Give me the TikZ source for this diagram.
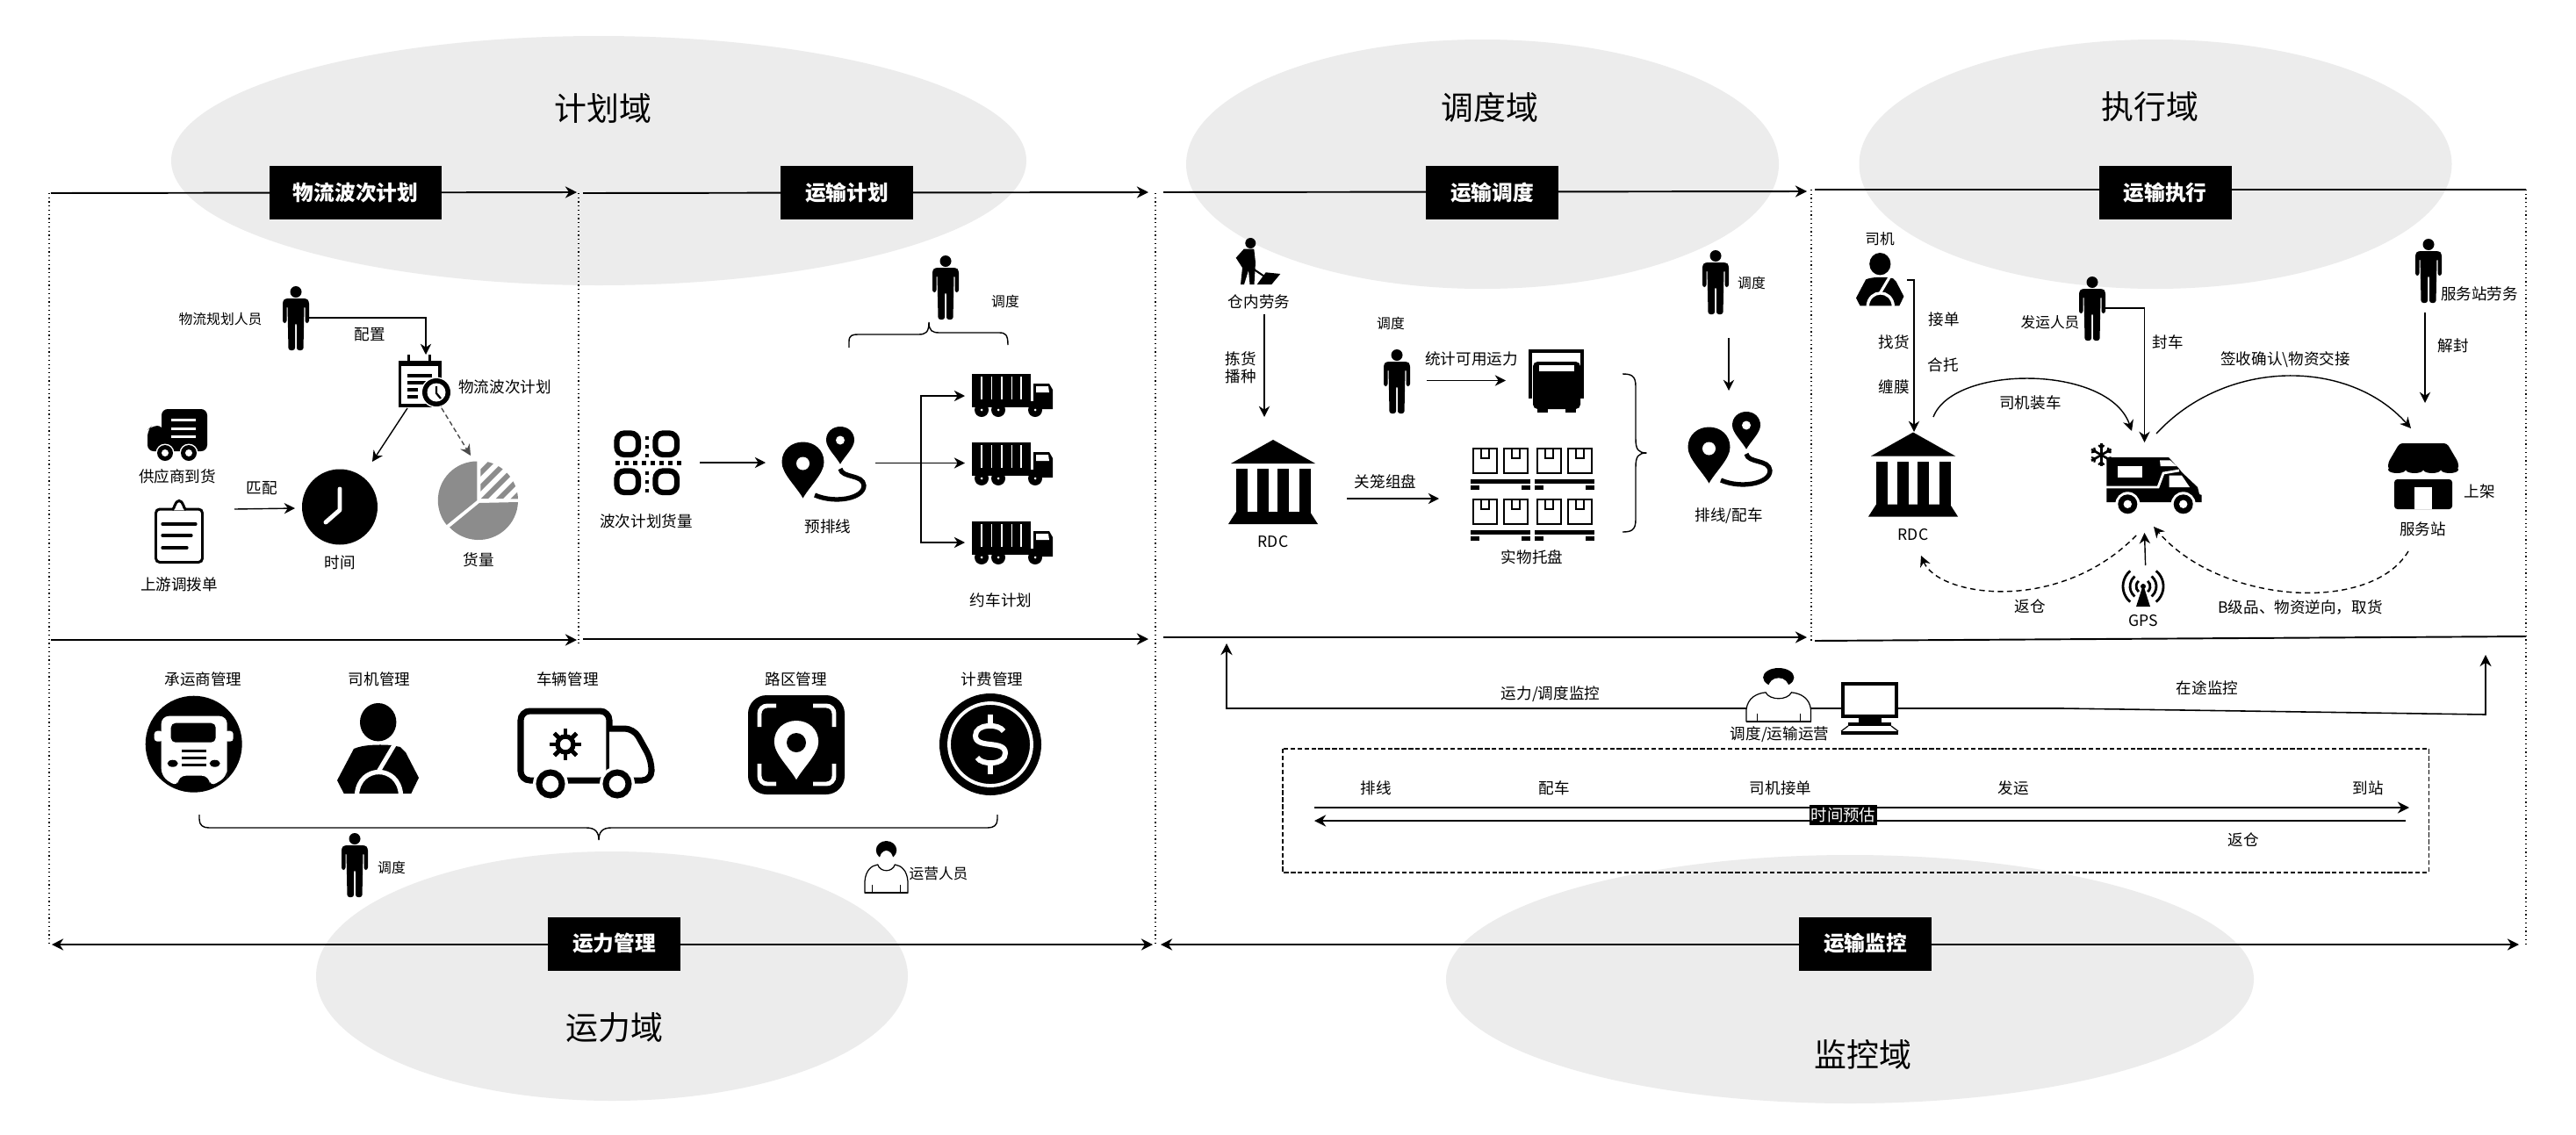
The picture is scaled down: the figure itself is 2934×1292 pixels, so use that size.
\documentclass[tikz,border=0pt]{standalone}
\usepackage{fontspec}
\setmainfont{Noto Sans CJK SC}
\usetikzlibrary{arrows.meta,positioning}

\begin{document}
\begin{tikzpicture}[y=-0.02cm,x=0.02cm,
	zonefill/.style={fill=black!7.5},
	hdr/.style={fill=black,text=white,font=\fontsize{13.5}{15}\selectfont\bfseries,minimum height=1.22cm,minimum width=3.02cm,inner sep=0pt},
	dom/.style={font=\fontsize{21}{24}\selectfont,inner sep=0pt},
	lab/.style={font=\fontsize{10}{11.3}\selectfont,inner sep=0pt,align=center},
	smalllab/.style={font=\fontsize{9}{11}\selectfont,inner sep=0pt},
	flow/.style={line width=1.1pt,-{Stealth[length=7.5pt,width=7.5pt]}},
	bothflow/.style={line width=1.1pt,{Stealth[length=7.5pt,width=7.5pt]}-{Stealth[length=7.5pt,width=7.5pt]}},
	thin flow/.style={line width=0.8pt,-{Stealth[length=7pt,width=7pt]}},
	dashflow/.style={line width=0.8pt,dash pattern=on 3.5pt off 2.5pt,-{Stealth[length=7pt,width=7pt]}},
	bound/.style={line width=0.7pt,dotted},
	curly/.style={line width=0.8pt}]
	\newcommand\PersonIcon[2]{\begin{scope}[shift={(#1,#2)}]
		\fill (15,6.5) circle [radius=6.5];
		\fill[rounded corners=1.5] (0,17) -- (3,14) -- (27,14) -- (30,17) -- (30,42) -- (25.5,42) -- (25.5,22) -- (24.5,22) -- (23.5,73) -- (16,73) -- (16,42) -- (14,42) -- (14,73) -- (6.5,73) -- (5.5,22) -- (4.5,22) -- (4.5,42) -- (0,42) -- cycle;
	\end{scope}}
	\newcommand\PinIcon[4][black]{\begin{scope}[shift={(#2,#3)},scale=#4]
		\fill[#1] (0,64) .. controls (-8,50) and (-24,36) .. (-24,23) .. controls (-24,9) and (-13,0) .. (0,0) .. controls (13,0) and (24,9) .. (24,23) .. controls (24,36) and (8,50) .. (0,64) -- cycle;
	\end{scope}}
	\newcommand\RouteIcon[2]{\begin{scope}[shift={(#1,#2)}]
		\PinIcon{23.5}{17.5}{1}
		\fill[white] (23.5,42) circle [radius=7.5];
		\PinIcon{66}{0}{0.667}
		\fill[white] (66,15.5) circle [radius=5];
		\draw[line width=3pt] (66,48) .. controls (68,59) and (92,54) .. (93,67) .. controls (93,82) and (60,88) .. (37,78);
	\end{scope}}
	\newcommand\BankIcon[2]{\begin{scope}[shift={(#1,#2)}]
		\fill (51,0) -- (99,27) -- (3,27) -- cycle;
		\foreach \c in {9,33,56,81} \fill (\c,33) rectangle (\c+13,84);
		\fill (9,82) -- (93,82) -- (102,96) -- (0,96) -- cycle;
	\end{scope}}
	\newcommand\LorryIcon[2]{\begin{scope}[shift={(#1,#2)}]
		\fill (0,0) rectangle (67,31);
		\foreach \s in {11,22.5,34,45.5,56} \draw[white,line width=0.7pt] (\s,3) -- (\s,29);
		\fill (0,31) rectangle (72,38);
		\fill (70,11) -- (88,11) -- (92,18) -- (92,40) -- (70,40) -- cycle;
		\fill[white] (73,14) -- (87,14) -- (88,21) -- (73,21) -- cycle;
		\foreach \w in {11,30,72} {\fill (\w,41) circle [radius=8]; \fill[white] (\w,41) circle [radius=1.5];}
	\end{scope}}
	\newcommand\DriverIcon[3]{\begin{scope}[shift={(#1,#2)},scale=#3]
		\fill (46.7,21.7) ellipse [x radius=20.7,y radius=21.7];
		\fill (19,52) .. controls (30,47) and (50,47) .. (62,48) -- (72,50) -- (78,56) -- (93,85) -- (84.3,103) -- (7.7,103) -- (0,88) -- cycle;
		\draw[white,line width=2.4pt*#3+0.4pt] (66,46) -- (47,78);
		\draw[white,line width=2.6pt*#3+0.4pt] (22.5,104) .. controls (25,70) and (70,70) .. (72.5,104);
	\end{scope}}
	\newcommand\OperatorIcon[4]{\begin{scope}[shift={(#1,#2)},xscale=#3,yscale=#4]
		\fill[white,draw=black,line width=0.7pt] (0,59) -- (0,46) .. controls (1,33) and (8,28) .. (15,27) .. controls (18,36) and (32,36) .. (35,27) .. controls (42,28) and (49,33) .. (50,46) -- (50,59) -- cycle;
		\fill (25,10.5) ellipse [x radius=12,y radius=10.5];
		\fill[white] (25,22) ellipse [x radius=8,y radius=11];
		\draw[line width=0.6pt] (8.4,50) -- (8.4,59) (41.6,50) -- (41.6,59);
		\draw[line width=1pt] (0,59) -- (50,59);
	\end{scope}}

	\useasboundingbox (0,0) rectangle (2934,1292);
	\fill[white] (0,0) rectangle (2934,1292);

	\fill[zonefill] (682,183) ellipse [x radius=487,y radius=142];
	\fill[zonefill] (1688.5,187) ellipse [x radius=337.5,y radius=142];
	\fill[zonefill] (2455,187) ellipse [x radius=337.5,y radius=142];
	\fill[zonefill] (697,1112) ellipse [x radius=337,y radius=142];
	\fill[zonefill] (2107,1115.5) ellipse [x radius=460,y radius=141.5];

	\node[dom] (planDom) at (687,123) {计划域};
	\node[dom] (dispatchDom) at (1697,122) {调度域};
	\node[dom] (execDom) at (2449,122) {执行域};
	\node[dom] (capacityDom) at (700,1171) {运力域};
	\node[dom] (monitorDom) at (2122,1201) {监控域};

	\draw[bound] (56,220) -- (56,1076);
	\draw[bound] (659,220) -- (659,733);
	\draw[bound] (1316,220) -- (1316,1076);
	\draw[bound] (2063,216) -- (2063,733);
	\draw[bound] (2877,216) -- (2877,1076);

	\coordinate (waveTopL) at (58,220);
	\coordinate (waveTopR) at (657,219);
	\coordinate (tranTopL) at (664,220);
	\coordinate (tranTopR) at (1308,219);
	\coordinate (dispTopL) at (1325,219);
	\coordinate (dispTopR) at (2058,218);
	\coordinate (execTopL) at (2067,216);
	\coordinate (execTopR) at (2877,216);
	\coordinate (waveMidL) at (58,729);
	\coordinate (waveMidR) at (657,729);
	\coordinate (tranMidL) at (664,728);
	\coordinate (tranMidR) at (1308,728);
	\coordinate (dispMidL) at (1325,726);
	\coordinate (dispMidR) at (2058,726);
	\coordinate (execMidL) at (2067,730);
	\coordinate (execMidR) at (2877,725);
	\coordinate (capL) at (59,1076);
	\coordinate (capR) at (1313,1076);
	\coordinate (monL) at (1322,1076);
	\coordinate (monR) at (2869,1076);

	\draw[flow] (waveTopL) -- (waveTopR);
	\draw[flow] (tranTopL) -- (tranTopR);
	\draw[flow] (dispTopL) -- (dispTopR);
	\draw[line width=1.1pt] (execTopL) -- (execTopR);
	\draw[flow] (waveMidL) -- (waveMidR);
	\draw[flow] (tranMidL) -- (tranMidR);
	\draw[flow] (dispMidL) -- (dispMidR);
	\draw[line width=1.1pt] (execMidL) -- (execMidR);
	\draw[bothflow] (capL) -- (capR);
	\draw[bothflow] (monL) -- (monR);

	\node[hdr,minimum width=3.92cm] (waveHdr) at (405,219.5) {物流波次计划};
	\node[hdr] (tranHdr) at (964.5,219.5) {运输计划};
	\node[hdr] (dispHdr) at (1699.5,219.5) {运输调度};
	\node[hdr] (execHdr) at (2466,219.5) {运输执行};
	\node[hdr] (capHdr) at (699.5,1075) {运力管理};
	\node[hdr] (monHdr) at (2124.5,1075) {运输监控};

	\PersonIcon{322}{326}
	\node[smalllab] (plannerLab) at (251,364) {物流规划人员};
	\coordinate (plannerOut) at (352,362);
	\coordinate (calIn) at (485,404);
	\draw[thin flow] (plannerOut) -| (calIn);
	\node[lab] (configLab) at (421,381) {配置};

	\begin{scope}[shift={(454,404)}]
		\draw[line width=1.9pt] (1.5,9) rectangle (47,58);
		\fill (0,7) rectangle (48,13);
		\fill (10,0) rectangle (13,12);
		\fill (34,0) rectangle (37,12);
		\foreach \l/\e in {22/38,30/32,38/22,46/22} \fill (10,\l) rectangle (\e,\l+3.5);
		\fill[white] (43,43) circle [radius=17.5];
		\fill (43,43) circle [radius=16];
		\fill[white] (43,43) circle [radius=10.5];
		\draw[line width=1.3pt] (43,36) -- (43,44) -- (48,50);
	\end{scope}
	\node[lab] (waveLab) at (575,441) {物流波次计划};
	\coordinate (calTime) at (464,465);
	\coordinate (timeIn) at (424,526);
	\coordinate (calQty) at (503,465);
	\coordinate (qtyIn) at (536,519);
	\draw[thin flow] (calTime) -- (timeIn);
	\draw[dashflow,black!70,dash pattern=on 3pt off 2pt] (calQty) -- (qtyIn);

	\fill (387,577.5) circle [radius=43];
	\draw[white,line width=2.8pt,line cap=round,line join=round] (387,557) -- (387,581) -- (371,595);
	\node[lab] (timeLab) at (387,641) {时间};

	\fill[black!45] (543.3,570) -- (543.3,525.5) arc [start angle=270,end angle=141,radius=44.5] -- cycle;
	\fill[black!45] (546,573) -- (590,572) arc [start angle=2.5,end angle=137,radius=45] -- cycle;
	\begin{scope}
		\clip (547.3,568) -- (547.4,525) arc [start angle=273,end angle=358,radius=45] -- cycle;
		\foreach \s in {-34,-17,...,68} \draw[black!45,line width=3.4pt] (530+\s,590) -- (600+\s,520);
	\end{scope}
	\node[lab] (qtyLab) at (545,638) {货量};

	\begin{scope}[shift={(168,466)}]
		\fill[rounded corners=4] (16,0) rectangle (68,48);
		\fill[rounded corners=4] (0,24) -- (5,19) -- (18,19) -- (18,48) -- (0,48) -- cycle;
		\foreach \l in {12.5,22,31.5} \draw[white,line width=1.7pt] (27,\l) -- (55,\l);
		\foreach \w in {20,47} {\fill[white] (\w,50) circle [radius=10.5]; \fill (\w,50) circle [radius=9]; \fill[white] (\w,50) circle [radius=4];}
	\end{scope}
	\node[lab] (supplierLab) at (202,543) {供应商到货};

	\begin{scope}[shift={(176,569)}]
		\draw[line width=1.7pt,rounded corners=2.5] (1.5,11) rectangle (54.5,71.5);
		\draw[line width=1.7pt,fill=white] (20,12) .. controls (23,11) and (23,1.5) .. (28,1.5) .. controls (33,1.5) and (33,11) .. (36,12);
		\foreach \l/\e in {28/47,41/42,55/37} \draw[line width=1.9pt,line cap=round] (9,\l) -- (\e,\l);
	\end{scope}
	\node[lab] (transferLab) at (204,666) {上游调拨单};
	\node[lab] (matchLab) at (298,556) {匹配};
	\coordinate (matchOut) at (267,580);
	\coordinate (matchIn) at (336,579);
	\draw[thin flow] (matchOut) -- (matchIn);

	\PersonIcon{1062}{291}
	\node[smalllab] (tranSchedLab) at (1145,343) {调度};
	\draw[curly] (967,396) -- (967,389) .. controls (967,382) and (971,381) .. (977,381) -- (1046,381) .. controls (1054,381) and (1058,379) .. (1058,367) .. controls (1058,377) and (1062,379) .. (1070,379) -- (1138,379) .. controls (1145,379) and (1148,381) .. (1148,393);

	\begin{scope}[shift={(699,490)}]
		\foreach \a/\b in {0/0,44/0,0/43,44/43} \draw[line width=3.6pt,rounded corners=5] (\a+3.5,\b+3.5) rectangle (\a+28,\b+28);
		\foreach \d in {2,12,22,32,42,52,62,72} \fill (\d,35) rectangle (\d+4.5,39.5);
		\foreach \d in {7,17,27,47,57,67} \fill (35.5,\d) rectangle (39.5,\d+4);
	\end{scope}
	\node[lab] (qtyPlanLab) at (736,594) {波次计划货量};
	\coordinate (qrOut) at (797,527);
	\coordinate (routeIn) at (872,527);
	\draw[thin flow] (qrOut) -- (routeIn);

	\RouteIcon{891}{486}
	\node[lab] (preRouteLab) at (943,600) {预排线};
	\coordinate (routeOut) at (997,527.5);
	\coordinate (split) at (1049,527.5);
	\coordinate (lorryA) at (1099,451);
	\coordinate (lorryB) at (1099,527.5);
	\coordinate (lorryC) at (1099,618);
	\draw[thin flow] (routeOut) -- (lorryB);
	\draw[thin flow] (split) |- (lorryA);
	\draw[thin flow] (split) |- (lorryC);
	\LorryIcon{1107}{426}
	\LorryIcon{1107}{504}
	\LorryIcon{1107}{594}
	\node[lab] (bookLab) at (1140,684) {约车计划};

	\begin{scope}[shift={(1407,272)}]
		\fill (17.3,5) circle [radius=6];
		\fill (9.7,11.7) -- (21.3,11.7) -- (23,27) -- (21.5,52) -- (16.5,52) -- (15,36) -- (10,52) -- (6,52) -- (8,33) -- (0.7,21.7) -- cycle;
		\draw[line width=1.2pt] (16.3,31.7) -- (36.3,45);
		\fill (34.7,38.3) -- (51.3,40) -- (41.3,52) -- (24.7,52) -- cycle;
	\end{scope}
	\node[lab] (whLabor) at (1434,344) {仓内劳务};
	\coordinate (whOut) at (1440,357.5);
	\coordinate (bankIn) at (1440,475);
	\draw[thin flow] (whOut) -- (bankIn);
	\node[lab] (pickLab) at (1413,419) {拣货\\播种};
	\BankIcon{1399}{501}
	\node[lab] (rdcLab) at (1450,617.5) {RDC};

	\node[smalllab] (capSchedLab) at (1584,368) {调度};
	\PersonIcon{1576}{398}
	\node[lab] (countLab) at (1676,409) {统计可用运力};
	\coordinate (countOut) at (1625,433.5);
	\coordinate (dockIn) at (1715,433.5);
	\draw[thin flow] (countOut) -- (dockIn);

	\begin{scope}[shift={(1741,398)}]
		\draw[line width=2.2pt] (2,56) -- (2,2) -- (61,2) -- (61,56);
		\fill[rounded corners=3] (5,14) rectangle (59,68);
		\fill (10,66) rectangle (22,72);
		\fill (42,66) rectangle (54,72);
		\fill[white] (12,18) rectangle (52,25);
	\end{scope}

	\node[lab] (palletGroup) at (1578,548.6) {关笼组盘};
	\coordinate (groupOut) at (1534,568);
	\coordinate (palletIn) at (1639,568);
	\draw[thin flow] (groupOut) -- (palletIn);
	\begin{scope}[shift={(1675,510)}]
		\foreach \gx in {0,73} \foreach \gy in {0,58} {
			\begin{scope}[shift={(\gx,\gy)}]
				\foreach \bx in {3,38} {
					\draw[line width=1.1pt] (\bx,1) rectangle (\bx+27,29);
					\draw[line width=1.1pt] (\bx+9,1) rectangle (\bx+18,12);
				}
				\fill (0,36) rectangle (68,41);
				\fill (0,43) rectangle (10,48);
				\fill (58,43) rectangle (68,48);
			\end{scope}
		}
	\end{scope}
	\node[lab] (palletLab) at (1745,635) {实物托盘};
	\draw[curly] (1848,426) .. controls (1858,426) and (1863,428) .. (1863,440) -- (1863,500) .. controls (1863,512) and (1866,516) .. (1875.5,516) .. controls (1866,516) and (1863,520) .. (1863,532) -- (1863,592) .. controls (1863,604) and (1858,606) .. (1848,606);

	\PersonIcon{1939}{285}
	\node[smalllab] (routeSchedLab) at (1995,322) {调度};
	\coordinate (routeSchedOut) at (1969,385);
	\coordinate (routeSchedIn) at (1969,445);
	\draw[thin flow] (routeSchedOut) -- (routeSchedIn);
	\RouteIcon{1923}{469}
	\node[lab] (lineCarLab) at (1969,588) {排线/配车};

	\node[smalllab,font=\fontsize{9.5}{11}\selectfont] (driverTitle) at (2141,272) {司机};
	\DriverIcon{2114}{288}{0.585}
	\coordinate (driverOut) at (2172,319);
	\coordinate (rdcIn) at (2180,492);
	\draw[thin flow] (driverOut) -| (rdcIn);
	\node[lab] (takeLab) at (2214,364) {接单};
	\node[lab] (findLab) at (2157,390) {找货};
	\node[lab] (mergeLab) at (2213,416) {合托};
	\node[lab] (wrapLab) at (2157,441) {缠膜};
	\BankIcon{2128}{492.5}
	\node[lab] (rdcExecLab) at (2179,609) {RDC};

	\PersonIcon{2368}{315}
	\node[smalllab,font=\fontsize{9.5}{11}\selectfont] (senderLab) at (2335,367.5) {发运人员};
	\coordinate (senderOut) at (2398,351);
	\coordinate (vanTop) at (2442.5,504);
	\draw[thin flow] (senderOut) -| (vanTop);
	\node[lab] (sealLab) at (2469,390) {封车};

	\coordinate (loadOut) at (2202,475);
	\coordinate (loadIn) at (2428,491);
	\draw[thin flow] (loadOut) .. controls (2225,415) and (2402,415) .. (loadIn);
	\node[lab] (loadLab) at (2312.5,459) {司机装车};
	\coordinate (signOut) at (2456,494);
	\coordinate (signIn) at (2746,488);
	\draw[thin flow] (signOut) .. controls (2535,408) and (2675,408) .. (signIn);
	\node[lab] (signLab) at (2603,410) {签收确认\textbackslash 物资交接};

	\PersonIcon{2751}{272}
	\node[lab] (stationLabor) at (2824,335) {服务站劳务};
	\coordinate (laborOut) at (2762,356);
	\coordinate (storeIn) at (2762,459);
	\draw[thin flow] (laborOut) -- (storeIn);
	\node[lab] (unsealLab) at (2794,393.6) {解封};

	\begin{scope}[shift={(2720,505)}]
		\fill[rounded corners=2] (13,0) -- (67,0) -- (80,22) -- (80,30) -- (0,30) -- (0,22) -- cycle;
		\foreach \c in {10,30,50,70} \fill (\c,30) ellipse [x radius=10,y radius=4];
		\fill[rounded corners=2] (7,41) rectangle (73,75);
		\fill[white] (30,50) rectangle (50,75);
	\end{scope}
	\node[lab] (shelfLab) at (2824,560) {上架};
	\node[lab] (stationLab) at (2759.5,602.5) {服务站};

	\begin{scope}[shift={(2380,505)}]
		\fill (19.3,16) -- (90,16) -- (102,29) -- (105,33) -- (123,50) -- (125,58) -- (127.7,59) -- (127.7,67) -- (19.3,67) -- cycle;
		\fill[white] (31.7,25.7) rectangle (60,39.3);
		\fill[white] (80,19.3) -- (91.7,19.3) -- (99.3,26) -- (80.7,26) -- cycle;
		\fill[white] (90.7,36.7) -- (105,36.7) -- (114,50) -- (90.7,50) -- cycle;
		\draw[white,line width=1.6pt] (19,50) -- (78,50) -- (84,34) -- (102,31);
		\foreach \w in {43.3,106.7} {\fill[white] (\w,69.3) circle [radius=14]; \fill (\w,69.3) circle [radius=11]; \fill[white] (\w,69.3) circle [radius=4.7];}
		\begin{scope}[shift={(13.3,13.3)}]
			\foreach \a in {30,90,...,330} {
				\draw[line width=1.5pt] (0,0) -- (\a:13);
				\draw[line width=1.2pt] (\a:8) -- +(\a+45:4.5) (\a:8) -- +(\a-45:4.5);
			}
		\end{scope}
	\end{scope}

	\coordinate (vanBack) at (2433,610);
	\coordinate (rdcBack) at (2188,633);
	\draw[dashflow] (vanBack) .. controls (2345,700) and (2208,680) .. (rdcBack);
	\node[lab] (backLab) at (2312.5,690.7) {返仓};
	\coordinate (stationBack) at (2743,628);
	\coordinate (vanFrom) at (2453,600);
	\draw[dashflow] (stationBack) .. controls (2700,700) and (2528,688) .. (vanFrom);
	\node[lab] (reverseLab) at (2620,692) {B级品、物资逆向，取货};

	\begin{scope}[shift={(2417,648)}]
		\fill (24,18) -- (32,43) -- (16,43) -- cycle;
		\fill (24,20) circle [radius=3];
		\foreach \r in {8,15,23} {
			\draw[line width=1.6pt] (24,20) ++(-50:\r) arc [start angle=-50,end angle=50,radius=\r];
			\draw[line width=1.6pt] (24,20) ++(130:\r) arc [start angle=130,end angle=230,radius=\r];
		}
	\end{scope}
	\coordinate (gpsOut) at (2443.6,644);
	\coordinate (gpsIn) at (2442.5,607);
	\draw[thin flow] (gpsOut) -- (gpsIn);
	\node[lab] (gpsLab) at (2441,707.5) {GPS};

	\node[lab] (carrierLab) at (231.5,774) {承运商管理};
	\node[lab] (driverLab) at (432,774) {司机管理};
	\node[lab] (vehicleLab) at (646.5,774) {车辆管理};
	\node[lab] (zoneLab) at (906.6,774) {路区管理};
	\node[lab] (feeLab) at (1130,774) {计费管理};

	\begin{scope}[shift={(220.7,847.7)}]
		\fill (0,0) circle [radius=55];
		\fill[white,rounded corners=5] (-37,-32) -- (38,-32) -- (38,32) -- (38,37) -- (18,49) -- (18,36) -- (-18,36) -- (-18,49) -- (-37,37) -- cycle;
		\fill[white,rounded corners=2] (-45,-15) rectangle (-35,-3);
		\fill[white,rounded corners=2] (35,-15) rectangle (45,-3);
		\fill[rounded corners=3] (-26,-24) rectangle (25,-2);
		\foreach \l in {8,16,24} \fill (-14,\l-1.5) rectangle (14,\l+1.5);
		\fill (-24,22) ellipse [x radius=6,y radius=4];
		\fill (24,22) ellipse [x radius=6,y radius=4];
	\end{scope}

	\DriverIcon{384}{801}{1}

	\begin{scope}[shift={(589,806)}]
		\draw[line width=4pt,rounded corners=6] (4,4) rectangle (105,83);
		\draw[line width=4pt,rounded corners=6,fill=white] (105,24) -- (133,24) -- (153,60) -- (153,83) -- (105,83);
		\foreach \w in {38,114} {\fill[white] (\w,87) circle [radius=20]; \draw[line width=4pt] (\w,87) circle [radius=13];}
		\begin{scope}[shift={(55,42)}]
			\foreach \a in {0,45,...,315} \draw[line width=2.8pt] (\a:10) -- (\a:18);
			\draw[line width=3pt] (0,0) circle [radius=9];
		\end{scope}
	\end{scope}

	\begin{scope}[shift={(852,792)}]
		\fill[rounded corners=12] (0,0) rectangle (110,113);
		\draw[white,line width=2.8pt,rounded corners=5] (13,36) -- (13,12) -- (32,12);
		\draw[white,line width=2.8pt,rounded corners=5] (74,12) -- (98,12) -- (98,36);
		\draw[white,line width=2.8pt,rounded corners=5] (13,78) -- (13,101) -- (32,101);
		\draw[white,line width=2.8pt,rounded corners=5] (74,101) -- (98,101) -- (98,78);
		\PinIcon[white]{55}{29}{1.05}
		\fill (55,54) circle [radius=11];
	\end{scope}

	\begin{scope}[shift={(1128,848)}]
		\fill (0,0) circle [radius=58];
		\draw[white,line width=2.2pt] (0,0) circle [radius=47];
		\draw[white,line width=3.4pt] (15,-15) .. controls (10,-24) and (-17,-24) .. (-17,-10) .. controls (-17,6) and (17,-6) .. (17,10) .. controls (17,24) and (-10,24) .. (-15,15);
		\draw[white,line width=3.4pt] (0,-34) -- (0,-22) (0,22) -- (0,34);
	\end{scope}

	\draw[curly] (227,928) -- (227,933) .. controls (227,940) and (231,943) .. (238,943) -- (668,943) .. controls (678,943) and (682,948) .. (682,957) .. controls (682,948) and (686,943) .. (696,943) -- (1125,943) .. controls (1132,943) and (1136,940) .. (1136,933) -- (1136,928);

	\PersonIcon{389}{949}
	\node[smalllab] (capSched) at (446,988) {调度};
	\OperatorIcon{985}{958}{0.98}{1}
	\node[smalllab,font=\fontsize{9.5}{11}\selectfont] (opsLab) at (1069,995) {运营人员};

	\coordinate (ctrlTip) at (1397,733);
	\coordinate (ctrlCorner) at (1397,807);
	\coordinate (ctrlBend) at (2349,807);
	\coordinate (tripCorner) at (2831,814);
	\coordinate (tripTip) at (2831,746);
	\draw[flow,line width=0.9pt] (ctrlBend) -- (ctrlCorner) -- (ctrlTip);
	\draw[flow,line width=0.9pt] (ctrlBend) -- (tripCorner) -- (tripTip);
	\node[lab] (ctrlLab) at (1766,791) {运力/调度监控};
	\node[lab] (tripLab) at (2514,784) {在途监控};

	\OperatorIcon{1989}{761}{1.47}{1.03}
	\begin{scope}[shift={(2097,777)}]
		\fill (0,0) rectangle (65,41);
		\fill[white] (4,3.5) rectangle (61,37);
		\fill (20,41) rectangle (46,46);
		\fill (8,46) rectangle (57,50);
		\fill[white] (10,50) -- (55,50) -- (64,56) -- (1,56) -- cycle;
		\draw[line width=0.7pt] (8,50) -- (0,56) (57,50) -- (65,56);
		\fill (0,56) rectangle (65,60);
	\end{scope}
	\node[lab] (opsCenterLab) at (2027,837) {调度/运输运营};

	\draw[line width=0.6pt,dash pattern=on 3pt off 1.5pt] (1461,853) rectangle (2766,994);
	\node[lab] (stepA) at (1567,898) {排线};
	\node[lab] (stepB) at (1770,898) {配车};
	\node[lab] (stepC) at (2028,898) {司机接单};
	\node[lab] (stepD) at (2293,898) {发运};
	\node[lab] (stepE) at (2697,898) {到站};
	\coordinate (goL) at (1497,920);
	\coordinate (goR) at (2744,920);
	\coordinate (backR) at (2740,935);
	\coordinate (backL) at (1497,935);
	\draw[flow] (goL) -- (goR);
	\draw[flow] (backR) -- (backL);
	\node[fill=black,text=white,font=\fontsize{10.5}{12}\selectfont,minimum width=1.54cm,minimum height=0.46cm,inner sep=0pt] (etaBox) at (2099.5,928.5) {时间预估};
	\node[lab] (stepBack) at (2555,957) {返仓};
\end{tikzpicture}
\end{document}
